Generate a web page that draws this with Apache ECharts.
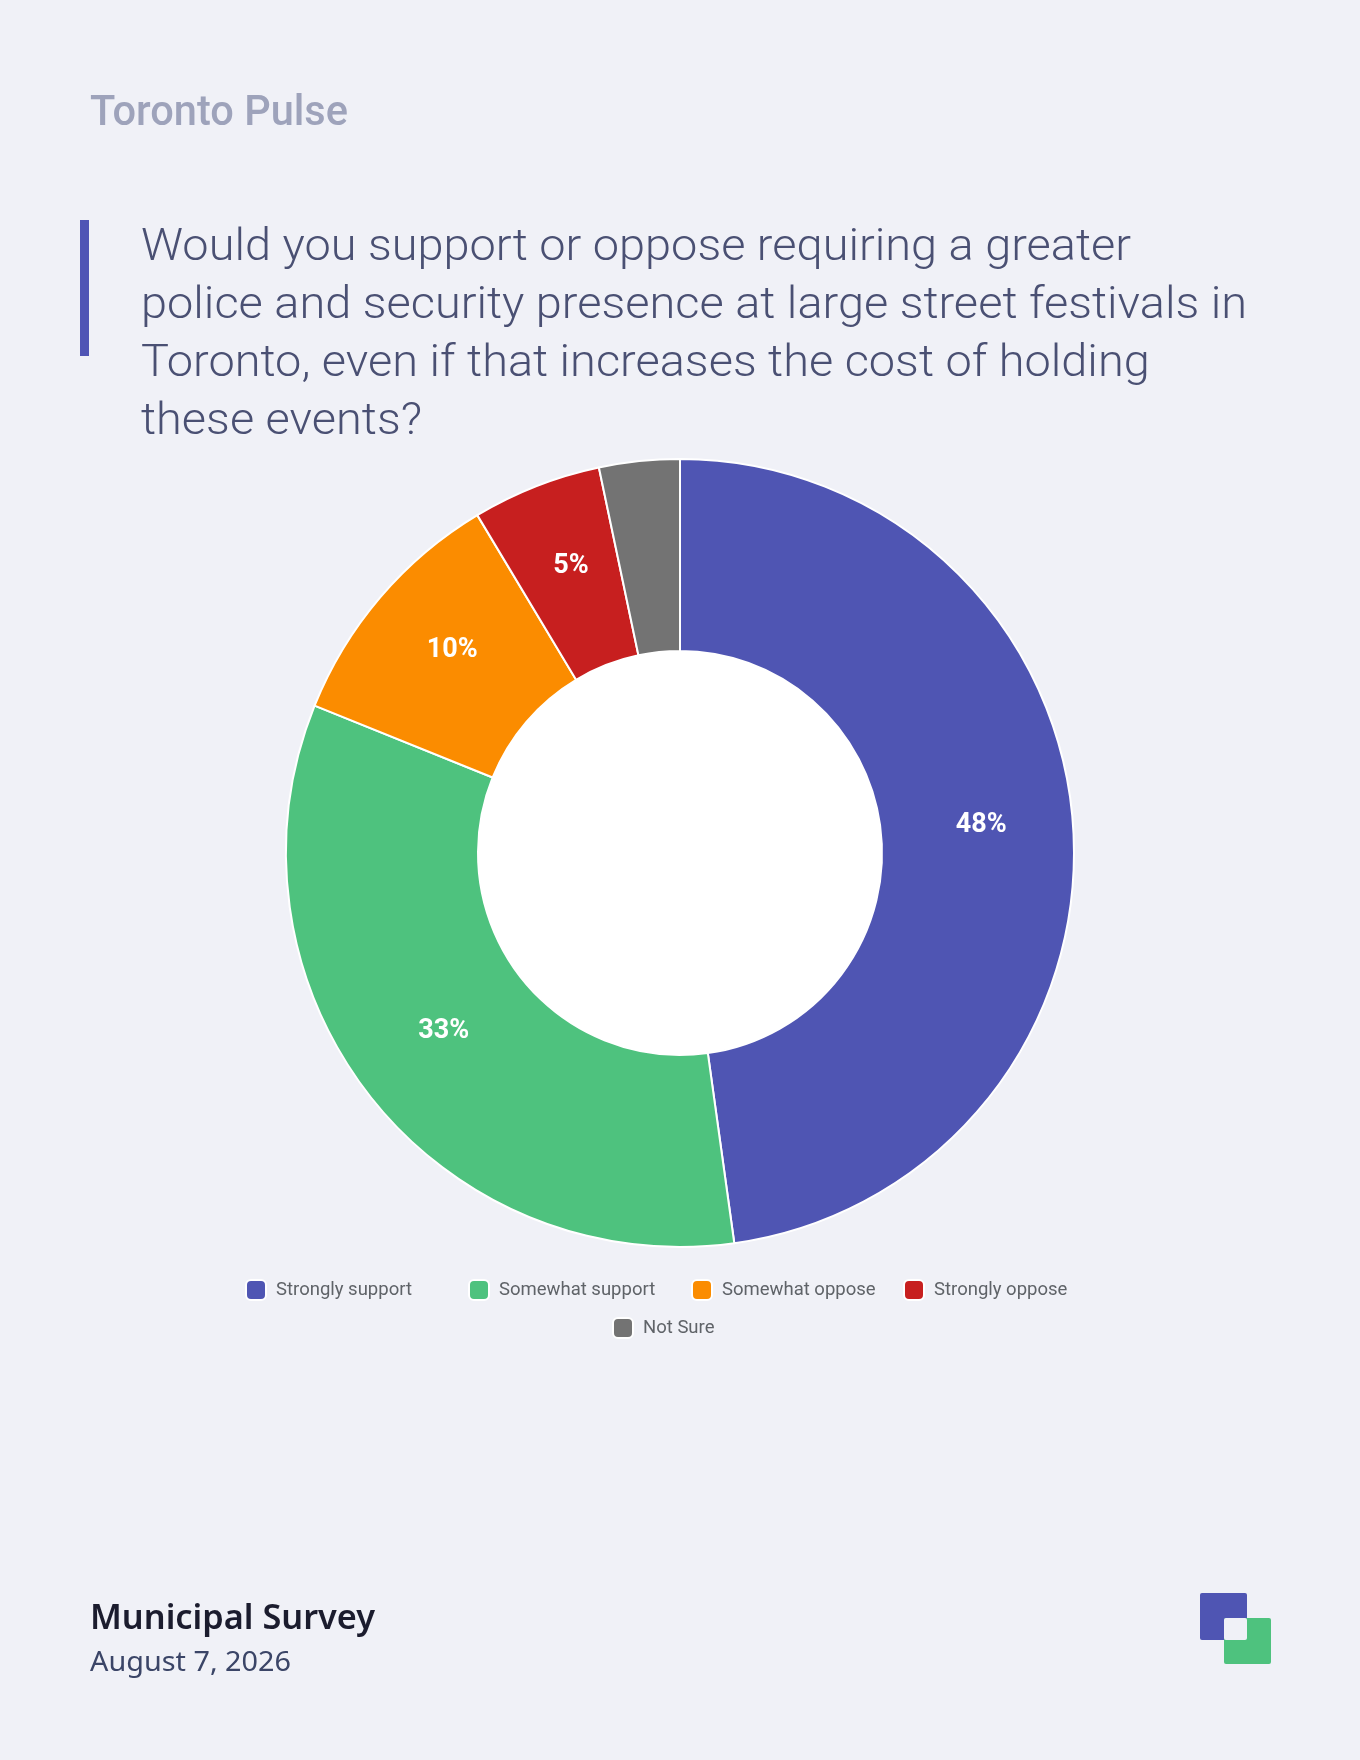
<!DOCTYPE html>
<html>
<head>
<meta charset="utf-8">
<script src="https://cdn.jsdelivr.net/npm/echarts@6/dist/echarts.min.js"></script>
<style>
  html, body { margin: 0; padding: 0; background: #f0f1f7; }
  #chart { width: 1360px; height: 1760px; }
</style>
</head>
<body>
<div id="chart"></div>
<script>
// ---- data ----
const categories = ['Strongly support', 'Somewhat support', 'Somewhat oppose', 'Strongly oppose', 'Not Sure'];
const shareValues = [47.8, 33.3, 10.3, 5.3, 3.3];
const sliceColors = ['#4f55b3', '#4ec27e', '#fb8c00', '#c71f1f', '#737373'];
const brandName = 'Toronto Pulse';
const questionLines = [
  'Would you support or oppose requiring a greater',
  'police and security presence at large street festivals in',
  'Toronto, even if that increases the cost of holding',
  'these events?'
];
const footerTitle = 'Municipal Survey';
const footerDate = 'August 7, 2026';

// ---- layout helpers ----
const measureCtx = document.createElement('canvas').getContext('2d');
function fitScale(text, font, target) {
  measureCtx.font = font;
  const w = measureCtx.measureText(text).width;
  return w > 0 ? target / w : 1;
}
function textEl(text, font, fill, x, baseline, fontSize, scaleX) {
  return {
    type: 'text', x: x, y: baseline - 0.342 * fontSize, scaleX: scaleX, z: 10,
    style: { x: 0, y: 0, text: text, font: font, fill: fill, textAlign: 'left', textVerticalAlign: 'middle' }
  };
}

const bg = '#f0f1f7';
const brandFont = '500 42px Roboto';
const titleFont = '300 45px Roboto';
const footTitleFont = '600 34px "Noto Sans"';
const footDateFont = '400 28px "Noto Sans"';

const titleScale = fitScale(questionLines[1], titleFont, 1106);
const titleBaselines = [264, 322, 380, 438];

const graphics = [];
graphics.push(textEl(brandName, brandFont, '#9ea3bb', 90, 129, 42, fitScale(brandName, brandFont, 258)));
graphics.push({ type: 'rect', shape: { x: 80, y: 220, width: 9, height: 136 }, style: { fill: '#5055b5' } });
questionLines.forEach((line, i) => {
  graphics.push(textEl(line, titleFont, '#4a5073', 141, titleBaselines[i], 45, titleScale));
});
graphics.push(textEl(footerTitle, footTitleFont, '#1b1c2e', 90, 1631, 34, fitScale(footerTitle, footTitleFont, 285)));
graphics.push(textEl(footerDate, footDateFont, '#3b4567', 90, 1673, 28, fitScale(footerDate, footDateFont, 201)));
// logo
graphics.push({ type: 'rect', shape: { x: 1200, y: 1593, width: 47, height: 47, r: 2 }, style: { fill: '#4f55b3' } });
graphics.push({ type: 'rect', shape: { x: 1224, y: 1618, width: 47, height: 46, r: 2 }, style: { fill: '#4ec27e' } });
graphics.push({ type: 'rect', shape: { x: 1224, y: 1618, width: 23, height: 22, r: 2 }, style: { fill: bg } });

const legendPos = [[245, 1279], [468, 1279], [691, 1279], [903, 1279], [612, 1317]];
const legends = categories.map((c, i) => ({
  data: [c],
  left: legendPos[i][0], top: legendPos[i][1],
  padding: 0,
  itemWidth: 20, itemHeight: 20,
  icon: 'roundRect',
  selectedMode: false,
  textStyle: { fontFamily: 'Roboto', fontSize: 18.5, color: '#5f6368', padding: [0, 0, 0, 5] }
}));

const chart = echarts.init(document.getElementById('chart'), null, { renderer: 'canvas' });
chart.setOption({
  backgroundColor: bg,
  animation: false,
  color: sliceColors,
  legend: legends,
  graphic: graphics,
  series: [{
    type: 'pie',
    name: 'hole',
    center: [680, 853],
    radius: [0, 202],
    silent: true,
    z: 1,
    label: { show: false },
    labelLine: { show: false },
    itemStyle: { color: '#ffffff' },
    data: [{ value: 1, name: '__hole', itemStyle: { color: '#ffffff' } }],
    legendHoverLink: false
  }, {
    type: 'pie',
    center: [680, 853],
    radius: [202, 394],
    startAngle: 90,
    clockwise: true,
    z: 2,
    avoidLabelOverlap: false,
    itemStyle: { borderColor: '#ffffff', borderWidth: 2 },
    label: {
      show: true,
      position: 'inside',
      offset: [1, -7],
      color: '#ffffff',
      fontFamily: 'Roboto',
      fontWeight: 'bold',
      fontSize: 27,
      formatter: p => (p.value >= 4 ? Math.round(p.value) + '%' : '')
    },
    labelLine: { show: false },
    emphasis: { disabled: true },
    data: categories.map((c, i) => ({ name: c, value: shareValues[i] }))
  }]
});
</script>
</body>
</html>
